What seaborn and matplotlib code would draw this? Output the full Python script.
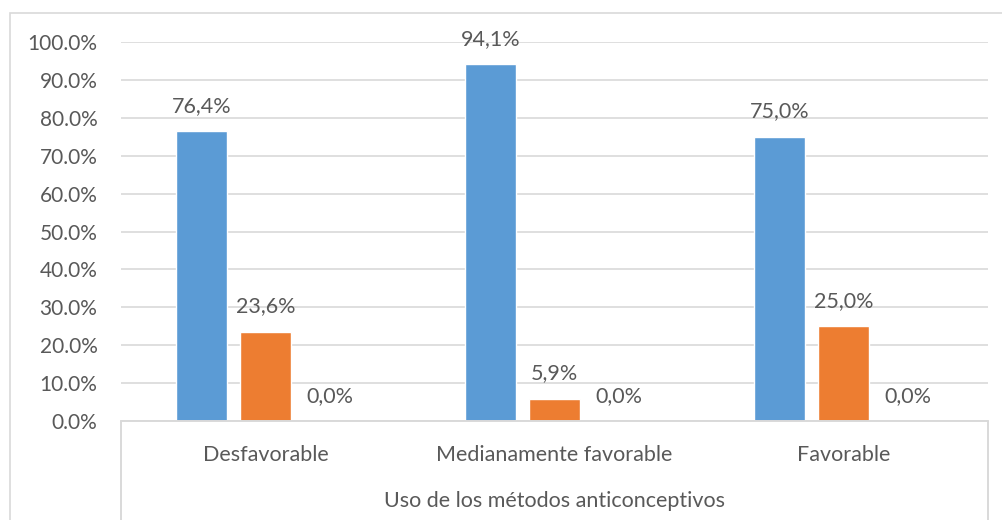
import numpy as np
import pandas as pd
import matplotlib.pyplot as plt
import matplotlib.patches as mpatches
import matplotlib.lines as mlines
import seaborn as sns

# Data
categorias = ["Desfavorable", "Medianamente favorable", "Favorable"]
series = ["Serie 1", "Serie 2", "Serie 3"]
valores_s1 = [76.4, 94.1, 75.0]
valores_s2 = [23.6, 5.9, 25.0]
valores_s3 = [0.0, 0.0, 0.0]
colores = ["#5B9BD5", "#ED7D31", "#A5A5A5"]
ticks_y = list(range(0, 101, 10))

df = pd.DataFrame({
    "categoria": categorias * 3,
    "serie": [series[0]] * 3 + [series[1]] * 3 + [series[2]] * 3,
    "valor": valores_s1 + valores_s2 + valores_s3,
})

sns.set_theme(style="white")
plt.rcParams['font.family'] = ['Lato', 'DejaVu Sans']
texto = "#595959"
grid_c = "#D9D9D9"
fs = 15.5

W, H = 1003, 520
fig = plt.figure(figsize=(W / 100, H / 100), dpi=100)
left, right, top, bottom = 121, 988, 42, 421
ax = fig.add_axes([left / W, 1 - bottom / H, (right - left) / W, (bottom - top) / H])

sns.barplot(data=df, x="categoria", y="valor", hue="serie", palette=colores,
            width=0.664, gap=0.2, legend=False, ax=ax, saturation=1)

ax.set_ylim(0, 100)
ax.set_yticks(ticks_y)
ax.set_yticklabels([f"{t:.1f}%" for t in ticks_y], color=texto, fontsize=15)
ax.yaxis.grid(True, color=grid_c, linewidth=1.2)
ax.set_axisbelow(True)
for s in ax.spines.values():
    s.set_visible(False)
ax.tick_params(axis="y", length=0, pad=17)
ax.tick_params(axis="x", length=0, pad=17, labelsize=fs, labelcolor=texto)
ax.set_xlabel("Uso de los métodos anticonceptivos", color=texto, fontsize=fs, labelpad=19)
ax.set_ylabel("")

for cont in ax.containers:
    etiquetas = [f"{b.get_height():.1f}".replace(".", ",") + "%" for b in cont]
    ax.bar_label(cont, labels=etiquetas, padding=11, color=texto, fontsize=fs)

# axis line and category box, in pixel coordinates
px = lambda x, y: (x / W, 1 - y / H)
for (x0, y0), (x1, y1) in [((left, bottom), (right, bottom)),
                           ((left, bottom), (left, 525)),
                           ((right, bottom), (right, 525))]:
    fig.add_artist(mlines.Line2D([x0 / W, x1 / W], [1 - y0 / H, 1 - y1 / H],
                                 color=grid_c, linewidth=1.4))

# outer chart border
fig.add_artist(mpatches.Rectangle(px(10, 540), 1.1, (540 - 13) / H,
                                  fill=False, edgecolor=grid_c, linewidth=1.2))

fig.savefig("out.png", dpi=100)
